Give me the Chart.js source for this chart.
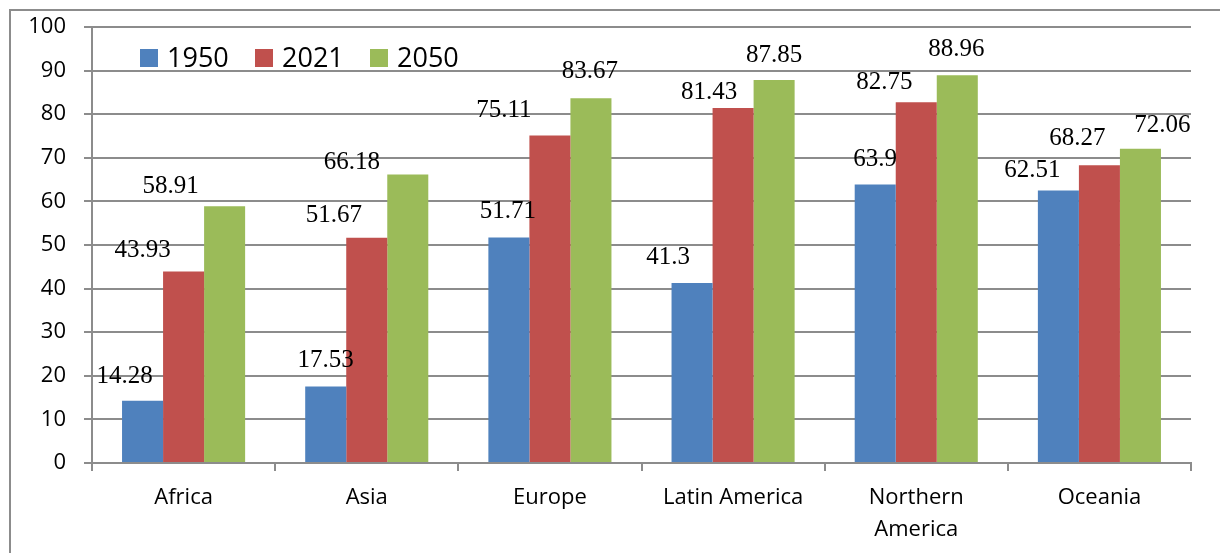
<!DOCTYPE html>
<html>
<head>
<meta charset="utf-8">
<script src="https://cdn.jsdelivr.net/npm/chart.js@4/dist/chart.umd.min.js"></script>
<style>
  html, body { margin: 0; padding: 0; background: #fff; }
  #wrap { width: 1220px; height: 553px; position: relative; }
</style>
</head>
<body>
<div id="wrap"><canvas id="bars"></canvas></div>
<script>
// regions and years
const regions = ['Africa', 'Asia', 'Europe', 'Latin America', ['Northern', 'America'], 'Oceania']
const years = ['1950', '2021', '2050']

const values1950 = [14.28, 17.53, 51.71, 41.3, 63.9, 62.51]
const values2021 = [43.93, 51.67, 75.11, 81.43, 82.75, 68.27]
const values2050 = [58.91, 66.18, 83.67, 87.85, 88.96, 72.06]

const yTicks = [0, 10, 20, 30, 40, 50, 60, 70, 80, 90, 100]

const colors = ['#4F81BD', '#C0504D', '#9BBB59']

// hand nudges for the value labels [dx, dy] around the top of each bar
const labelNudge = [
  [[-18, -24], [0, -26], [-1, -26], [-24, -25], [0, -25], [-26, -20]],
  [[-41, -21], [-33, -22], [-46, -25], [-24, -16], [-32, -20], [-22, -27]],
  [[-54, -20], [-56, -12], [-1, -27], [0, -25], [-1, -26], [22, -23]],
]

const grey = '#8c8c8c'

const frame = {
  id: 'frame',
  beforeDraw(chart) {
    const ctx = chart.ctx
    ctx.save()
    ctx.fillStyle = '#fff'
    ctx.fillRect(0, 0, chart.width, chart.height)
    ctx.strokeStyle = grey
    ctx.lineWidth = 2
    ctx.beginPath()
    ctx.moveTo(10, chart.height)
    ctx.lineTo(10, 10)
    ctx.lineTo(chart.width, 10)
    ctx.stroke()
    ctx.restore()
  },
}

const valueLabels = {
  id: 'valueLabels',
  afterDatasetsDraw(chart) {
    const ctx = chart.ctx
    ctx.save()
    ctx.font = '25px "Liberation Serif", "Times New Roman", serif'
    ctx.fillStyle = '#000'
    ctx.textAlign = 'center'
    ctx.textBaseline = 'middle'
    chart.data.datasets.forEach((ds, i) => {
      chart.getDatasetMeta(i).data.forEach((bar, j) => {
        const n = labelNudge[i][j]
        ctx.fillText(String(ds.data[j]), bar.x + n[0], bar.y + n[1])
      })
    })
    ctx.restore()
  },
}

const boxLegend = {
  id: 'boxLegend',
  afterDraw(chart) {
    const ctx = chart.ctx
    ctx.save()
    ctx.font = '27px "Open Sans", sans-serif'
    ctx.textBaseline = 'middle'
    ctx.textAlign = 'left'
    let x = 140
    chart.data.datasets.forEach((ds) => {
      ctx.fillStyle = ds.backgroundColor
      ctx.fillRect(x, 49, 18, 18)
      ctx.fillStyle = '#000'
      ctx.fillText(ds.label, x + 27, 59)
      x += 115
    })
    ctx.restore()
  },
}

const barConfig = {
  type: 'bar',
  data: {
    labels: regions,
    datasets: [
      { label: years[0], backgroundColor: colors[0], data: values1950 },
      { label: years[1], backgroundColor: colors[1], data: values2021 },
      { label: years[2], backgroundColor: colors[2], data: values2050 },
    ],
  },
  options: {
    responsive: true,
    maintainAspectRatio: false,
    animation: false,
    layout: { padding: { left: 0, right: 29, top: 27, bottom: 0 } },
    plugins: {
      legend: { display: false },
      tooltip: { enabled: false },
    },
    datasets: {
      bar: { categoryPercentage: 0.672, barPercentage: 1.0, borderWidth: 0 },
    },
    scales: {
      x: {
        afterFit(scale) { scale.height = 90 },
        border: { display: true, color: grey, width: 2 },
        grid: { drawOnChartArea: false, drawTicks: true, tickLength: 8, color: grey, lineWidth: 2, offset: true },
        ticks: {
          color: '#000',
          padding: 11,
          maxRotation: 0,
          autoSkip: false,
          font: { family: '"Open Sans", sans-serif', size: 22, lineHeight: 1.45 },
        },
      },
      y: {
        min: 0,
        max: 100,
        afterFit(scale) {
          scale.width = 92
          scale.paddingTop = 0
          scale.paddingBottom = 0
        },
        afterBuildTicks(scale) { scale.ticks = yTicks.map(v => ({ value: v })) },
        border: { display: true, color: grey, width: 2 },
        grid: { color: grey, lineWidth: 2, drawTicks: true, tickLength: 8 },
        ticks: {
          color: '#000',
          padding: 18,
          font: { family: '"Open Sans", sans-serif', size: 22 },
        },
      },
    },
  },
  plugins: [frame, valueLabels, boxLegend],
}

const barsCtx = document.getElementById('bars')
window.myBar = new Chart(barsCtx, barConfig)
</script>
</body>
</html>
